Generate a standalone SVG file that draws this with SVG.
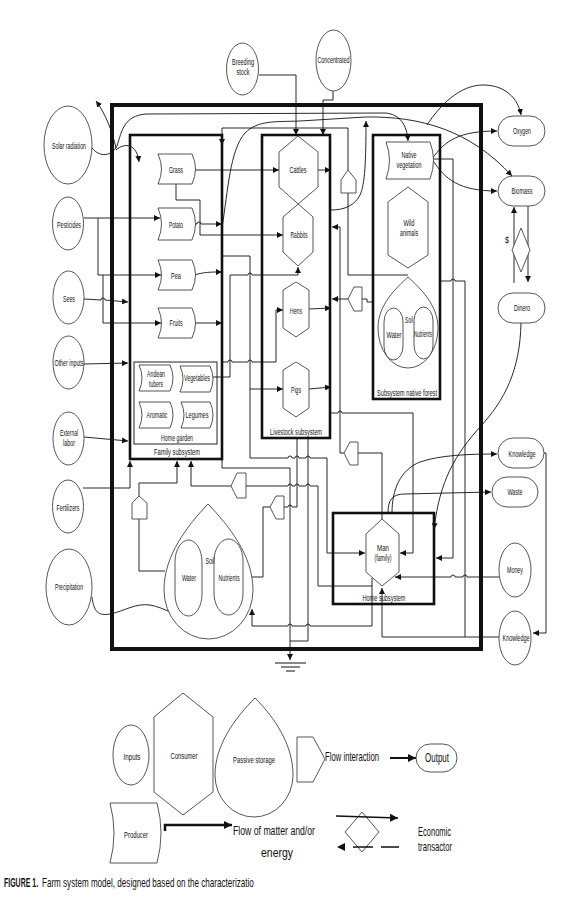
<svg xmlns="http://www.w3.org/2000/svg" width="572" height="923" viewBox="0 0 572 923">
<style>
.n{fill:#fff;stroke:#444;stroke-width:0.9}
.sub{fill:none;stroke:#111;stroke-width:2.6}
.c{fill:none;stroke:#111;stroke-width:0.9}
.t{font-family:"Liberation Sans",Arial,sans-serif;font-size:9.5px;fill:#111;text-anchor:middle}
.t2{font-family:"Liberation Sans",Arial,sans-serif;font-size:8.3px;fill:#111;text-anchor:middle}
.tb{font-family:"Liberation Sans",Arial,sans-serif;font-size:9.5px;fill:#111;text-anchor:middle}
.lg{font-family:"Liberation Sans",Arial,sans-serif;font-size:13px;fill:#111}
</style>
<defs>
<marker id="ah" viewBox="0 0 10 10" refX="10" refY="5" markerWidth="6" markerHeight="6" markerUnits="userSpaceOnUse" orient="auto"><path d="M0,0 L10,5 L0,10 Z" fill="#111"/></marker>
<marker id="ahb" viewBox="0 0 10 10" refX="10" refY="5" markerWidth="8" markerHeight="8" markerUnits="userSpaceOnUse" orient="auto"><path d="M0,0 L10,5 L0,10 Z" fill="#111"/></marker>
</defs>
<rect width="572" height="923" fill="#fff"/>

<!-- frames -->
<g id="farm-frame"><rect x="112" y="105" width="369" height="544" fill="none" stroke="#111" stroke-width="4"/></g>
<g id="family-subsystem"><rect x="130" y="135" width="92" height="324" class="sub"/><text class="tb" x="177" y="455" textLength="46" lengthAdjust="spacingAndGlyphs">Family subsystem</text></g>
<g id="livestock-subsystem"><rect x="262" y="135" width="68" height="303" class="sub"/><text class="tb" x="296" y="435" textLength="52" lengthAdjust="spacingAndGlyphs">Livestock subsystem</text></g>
<g id="forest-subsystem"><rect x="373" y="135" width="67" height="264" class="sub"/><text class="tb" x="407" y="396" textLength="60" lengthAdjust="spacingAndGlyphs">Subsystem native forest</text></g>
<g id="home-subsystem"><rect x="333" y="513" width="101" height="91" class="sub" stroke-width="3"/><text class="tb" x="384" y="601" textLength="43" lengthAdjust="spacingAndGlyphs">Home subsystem</text></g>
<g id="home-garden"><rect x="134" y="362" width="83" height="82" fill="none" stroke="#222" stroke-width="1"/><text class="t" x="177" y="441" textLength="32" lengthAdjust="spacingAndGlyphs">Home garden</text></g>

<!-- connectors -->
<g id="connectors">
<path class="c" d="M259,75 L296,75 L296,135" marker-end="url(#ah)"/>
<path class="c" d="M333,91 L333,100 L323,100 L323,135" marker-end="url(#ah)"/>
<path class="c" d="M92,148 C100,158 112,156 117,146 C122,130 124,116 146,114 L385,113 C400,114 407,125 408,141" marker-end="url(#ah)"/>
<path class="c" d="M116,148 C112,130 105,113 96,101" marker-end="url(#ah)"/>
<path class="c" d="M116,150 C125,142 137,144 139,162" marker-end="url(#ah)"/>
<path class="c" d="M222,228 C228,190 230,150 245,133 C258,120 275,122 300,121 L365,117 C420,116 470,130 512,176" marker-end="url(#ah)"/>
<path class="c" d="M427,125 C440,105 460,85 483,85 C505,85 518,98 521,115" marker-end="url(#ah)"/>
<path class="c" d="M331,210 C345,210 355,205 360,195 C365,185 366,160 366,121" marker-end="url(#ah)"/>
<path class="c" d="M348,170 L348,128 L222,128 L222,145" marker-end="url(#ah)"/>
<path class="c" d="M348,193 L348,275 L408,275"/>
<path class="c" d="M192,170 L279,170" marker-end="url(#ah)"/>
<path class="c" d="M318,170 L331,170" marker-end="url(#ah)"/>
<path class="c" d="M176,184 L176,200 L200,200 L200,235 L283,235" marker-end="url(#ah)"/>
<path class="c" d="M195,224 L197,224 A2,2 0 0 1 201,224 L222,224" marker-end="url(#ah)"/>
<path class="c" d="M194,275 C205,272 210,272 222,272" marker-end="url(#ah)"/>
<path class="c" d="M194,323 L222,323" marker-end="url(#ah)"/>
<path class="c" d="M84,218 L160,218" marker-end="url(#ah)"/>
<path class="c" d="M98,218 L98,275 L161,275" marker-end="url(#ah)"/>
<path class="c" d="M103,275 L103,323 L161,323" marker-end="url(#ah)"/>
<path class="c" d="M84,299 L101,300 A2,2 0 0 1 105,300 L128,302" marker-end="url(#ah)"/>
<path class="c" d="M84,364 L128,363" marker-end="url(#ah)"/>
<path class="c" d="M84,437 L128,441" marker-end="url(#ah)"/>
<path class="c" d="M83,488 L130,488 L130,461" marker-end="url(#ah)"/>
<path class="c" d="M92,597 C94,612 98,616 110,614 C125,611 135,603 150,605 C165,608 178,616 188,622" marker-end="url(#ah)"/>
<path class="c" d="M222,256 L250,256 L250,389 L283,389" marker-end="url(#ah)"/>
<path class="c" d="M250,389 L250,458 L288,458 A2,2 0 0 1 292,458 L295,458 A2,2 0 0 1 299,458 L306,458 A2,2 0 0 1 310,458 L327,458 L327,553 L365,553" marker-end="url(#ah)"/>
<path class="c" d="M213,377 L230,377 L230,275 L248,275 A2,2 0 0 1 252,275 L298,275 L298,267" marker-end="url(#ah)"/>
<path class="c" d="M222,362 L228,362 A2,2 0 0 1 232,362 L248,362 A2,2 0 0 1 252,362 L276,362 L276,310 L283,310" marker-end="url(#ah)"/>
<path class="c" d="M309,309 L331,308" marker-end="url(#ah)"/>
<path class="c" d="M309,389 L331,387" marker-end="url(#ah)"/>
<path class="c" d="M344,453 L340,453 L340,227 L332,227" marker-end="url(#ah)"/>
<path class="c" d="M348,299 L332,299" marker-end="url(#ah)"/>
<path class="c" d="M362,299 L367,299 L367,302 L373,302"/>
<path class="c" d="M330,413 L338,413 A2,2 0 0 1 342,413 L413,413 L413,553 L400,553" marker-end="url(#ah)"/>
<path class="c" d="M358,453 L382,453 L382,519"/>
<path class="c" d="M432,159 L453,159 L453,558 L436,558" marker-end="url(#ah)"/>
<path class="c" d="M440,281 L451,281 A2,2 0 0 1 455,281 L465,281 L465,637"/>
<path class="c" d="M499,637 L382,637 L382,588" marker-end="url(#ah)"/>
<path class="c" d="M499,577 L467,577 A2,2 0 0 0 463,577 L455,577 A2,2 0 0 0 451,577 L395,577" marker-end="url(#ah)"/>
<path class="c" d="M521,323 C520,370 505,400 480,427 C455,455 440,480 434,529" marker-end="url(#ah)"/>
<path class="c" d="M392,513 C392,490 400,470 420,462 C440,455 470,454 497,454" marker-end="url(#ah)"/>
<path class="c" d="M388,513 C388,500 392,494 405,494 L491,492" marker-end="url(#ah)"/>
<path class="c" d="M544,453 L546,453 L546,633 L533,633" marker-end="url(#ah)"/>
<path class="c" d="M432,159 C445,140 460,131 497,131" marker-end="url(#ah)"/>
<path class="c" d="M432,159 C445,180 460,191 497,191" marker-end="url(#ah)"/>
<path class="c" d="M514,283 L514,207" marker-end="url(#ah)"/>
<path class="c" d="M528,206 L528,282" marker-end="url(#ah)"/>
<path class="c" d="M139,519 L139,571 L165,571"/>
<path class="c" d="M139,496 L139,483 L177,483 L177,461" marker-end="url(#ah)"/>
<path class="c" d="M231,486 L191,486 L191,461" marker-end="url(#ah)"/>
<path class="c" d="M246,486 L288,486 A2,2 0 0 1 292,486 L295,486 A2,2 0 0 1 299,486 L306,486 A2,2 0 0 1 310,486 L318,486 L318,586 L372,586"/>
<path class="c" d="M372,578 L372,626 L310,626 A2,2 0 0 0 306,626 L292,626 A2,2 0 0 0 288,626 L252,626 L252,609" marker-end="url(#ah)"/>
<path class="c" d="M270,507 L263,507 L263,577 L245,577" marker-end="url(#ah)"/>
<path class="c" d="M284,507 L288,507 A2,2 0 0 1 292,507 L297,507 L297,438"/>
<path class="c" d="M222,459 L222,468 L290,468 L290,660" marker-end="url(#ah)"/>
<path class="c" d="M308,438 L308,641 L290,641"/>
</g>

<g id="ground"><path d="M275,663 L306,663 M281,667 L300,667 M286,671 L295,671" stroke="#111" stroke-width="1" fill="none"/></g>

<!-- sources -->
<g id="breeding-stock"><ellipse class="n" cx="242.5" cy="69" rx="16" ry="26"/><text class="t2" x="243" y="65" textLength="22" lengthAdjust="spacingAndGlyphs">Breeding</text><text class="t2" x="243" y="75" textLength="13" lengthAdjust="spacingAndGlyphs">stock</text></g>
<g id="concentrated"><ellipse class="n" cx="333.5" cy="60.5" rx="17.5" ry="30.5"/><text class="t" x="333.5" y="63" textLength="32" lengthAdjust="spacingAndGlyphs">Concentrated</text></g>
<g id="solar-radiation"><ellipse class="n" cx="68" cy="145" rx="24" ry="39"/><text class="t" x="69" y="149" textLength="34" lengthAdjust="spacingAndGlyphs">Solar radiation</text></g>
<g id="pesticides"><ellipse class="n" cx="68" cy="223.5" rx="15.5" ry="26.5"/><text class="t" x="69" y="228" textLength="24" lengthAdjust="spacingAndGlyphs">Pesticides</text></g>
<g id="sees"><ellipse class="n" cx="68.5" cy="297.5" rx="15.5" ry="26.5"/><text class="t" x="69" y="302" textLength="12" lengthAdjust="spacingAndGlyphs">Sees</text></g>
<g id="other-inputs"><ellipse class="n" cx="68.5" cy="362.5" rx="15.5" ry="26.5"/><text class="t" x="69" y="366" textLength="29" lengthAdjust="spacingAndGlyphs">Other inputs</text></g>
<g id="external-labor"><ellipse class="n" cx="68.5" cy="438.5" rx="15.5" ry="26.5"/><text class="t2" x="69" y="436" textLength="18" lengthAdjust="spacingAndGlyphs">External</text><text class="t2" x="69" y="446" textLength="12" lengthAdjust="spacingAndGlyphs">labor</text></g>
<g id="fertilizers"><ellipse class="n" cx="68" cy="506.5" rx="15.5" ry="26.5"/><text class="t" x="68" y="511" textLength="23" lengthAdjust="spacingAndGlyphs">Fertilizers</text></g>
<g id="precipitation"><ellipse class="n" cx="69" cy="587" rx="23" ry="38"/><text class="t" x="69" y="590" textLength="28" lengthAdjust="spacingAndGlyphs">Precipitation</text></g>

<!-- producers -->
<g id="grass"><path class="n" d="M158,154 L192,154 Q199,169 192,184 L158,184 Q165,169 158,154 Z"/><text class="t" x="176" y="173" textLength="14" lengthAdjust="spacingAndGlyphs">Grass</text></g>
<g id="potato"><path class="n" d="M158,208 L192,208 Q199,224 192,240 L158,240 Q165,224 158,208 Z"/><text class="t" x="176" y="228" textLength="14" lengthAdjust="spacingAndGlyphs">Potato</text></g>
<g id="pea"><path class="n" d="M158,260 L192,260 Q199,275 192,290 L158,290 Q165,275 158,260 Z"/><text class="t" x="176" y="279" textLength="10" lengthAdjust="spacingAndGlyphs">Pea</text></g>
<g id="fruits"><path class="n" d="M158,308 L192,308 Q199,323 192,338 L158,338 Q165,323 158,308 Z"/><text class="t" x="176" y="326" textLength="13" lengthAdjust="spacingAndGlyphs">Fruits</text></g>
<g id="andean-tubers"><path class="n" d="M139,365 L170,365 Q176,378 170,391 L139,391 Q145,378 139,365 Z"/><text class="t2" x="156" y="377" textLength="18" lengthAdjust="spacingAndGlyphs">Andean</text><text class="t2" x="156" y="387" textLength="14" lengthAdjust="spacingAndGlyphs">tubers</text></g>
<g id="vegetables"><path class="n" d="M180,366 L210,366 Q216,379 210,392 L180,392 Q186,379 180,366 Z"/><text class="t" x="197" y="381" textLength="26" lengthAdjust="spacingAndGlyphs">Vegetables</text></g>
<g id="aromatic"><path class="n" d="M139,402 L170,402 Q176,415 170,428 L139,428 Q145,415 139,402 Z"/><text class="t" x="157" y="418" textLength="21" lengthAdjust="spacingAndGlyphs">Aromatic</text></g>
<g id="legumes"><path class="n" d="M181,402 L210,402 Q216,415 210,428 L181,428 Q187,415 181,402 Z"/><text class="t" x="197" y="418" textLength="23" lengthAdjust="spacingAndGlyphs">Legumes</text></g>
<g id="native-vegetation"><path class="n" d="M386,142 L430,142 Q437,160 430,179 L386,179 Q393,160 386,142 Z"/><text class="t2" x="409" y="158" textLength="15" lengthAdjust="spacingAndGlyphs">Native</text><text class="t2" x="409" y="168" textLength="25" lengthAdjust="spacingAndGlyphs">vegetation</text></g>

<!-- consumers -->
<g id="cattles-rabbits"><path class="n" fill="none" d="M298,136 L318,152 L318,187 L283,217 L283,252 L298,266 L313,252 L313,217 L279,187 L279,152 Z"/><text class="t" x="298" y="173" textLength="17" lengthAdjust="spacingAndGlyphs">Cattles</text><text class="t" x="299" y="238" textLength="17" lengthAdjust="spacingAndGlyphs">Rabbits</text></g>
<g id="hens"><path class="n" d="M296,282 L309,290 L309,328 L296,337 L283,328 L283,290 Z"/><text class="t" x="296" y="314" textLength="12" lengthAdjust="spacingAndGlyphs">Hens</text></g>
<g id="pigs"><path class="n" d="M296,362 L309,370 L309,408 L296,417 L283,408 L283,370 Z"/><text class="t" x="296" y="393" textLength="10" lengthAdjust="spacingAndGlyphs">Pigs</text></g>
<g id="wild-animals"><path class="n" d="M408,187 L428,202 L428,255 L408,268 L388,255 L388,202 Z"/><text class="t2" x="409" y="226" textLength="11" lengthAdjust="spacingAndGlyphs">Wild</text><text class="t2" x="409" y="236" textLength="18" lengthAdjust="spacingAndGlyphs">animals</text></g>
<g id="man-family"><path class="n" d="M382,519 L399,534 L399,572 L382,586 L366,572 L366,534 Z"/><text class="t2" x="383" y="551" textLength="12" lengthAdjust="spacingAndGlyphs">Man</text><text class="t2" x="383" y="561" textLength="17" lengthAdjust="spacingAndGlyphs">(family)</text></g>

<!-- storages -->
<g id="forest-soil"><path class="n" d="M408,277 C420,288 438,305 438,328 A30,40 0 0 1 378,328 C378,305 396,288 408,277 Z"/><rect class="n" x="384" y="308" width="19" height="52" rx="9.5" ry="14"/><rect class="n" x="414" y="307" width="19" height="52" rx="9.5" ry="14"/><text class="t" x="409" y="323" textLength="8" lengthAdjust="spacingAndGlyphs">Soil</text><text class="t" x="394" y="338" textLength="15" lengthAdjust="spacingAndGlyphs">Water</text><text class="t" x="423" y="337" textLength="18" lengthAdjust="spacingAndGlyphs">Nutrients</text></g>
<g id="farm-soil"><path class="n" d="M208,504 C228,525 253,555 253,590 A44.5,49 0 0 1 164,590 C164,555 188,525 208,504 Z"/><rect class="n" x="175" y="540" width="27" height="76" rx="13.5" ry="22"/><rect class="n" x="214" y="539" width="29" height="76" rx="14.5" ry="22"/><text class="t" x="210" y="564" textLength="9" lengthAdjust="spacingAndGlyphs">Soil</text><text class="t" x="189" y="581" textLength="14" lengthAdjust="spacingAndGlyphs">Water</text><text class="t" x="229" y="581" textLength="21" lengthAdjust="spacingAndGlyphs">Nutrients</text></g>

<!-- flow interactions -->
<g id="fi-1"><path class="n" d="M348,170 L356,180 L356,193 L341,193 L341,180 Z"/></g>
<g id="fi-2"><path class="n" d="M348,299 L354,287 L362,287 L362,311 L354,311 Z"/></g>
<g id="fi-3"><path class="n" d="M344,453 L350,442 L358,442 L358,465 L350,465 Z"/></g>
<g id="fi-4"><path class="n" d="M231,486 L237,473 L246,473 L246,498 L237,498 Z"/></g>
<g id="fi-5"><path class="n" d="M270,507 L276,496 L284,496 L284,519 L276,519 Z"/></g>
<g id="fi-6"><path class="n" d="M139,496 L147,503 L147,519 L132,519 L132,503 Z"/></g>

<!-- outputs -->
<g id="oxygen"><rect class="n" x="498" y="116" width="47" height="30" rx="15"/><text class="t" x="522" y="134" textLength="18" lengthAdjust="spacingAndGlyphs">Oxygen</text></g>
<g id="biomass"><rect class="n" x="498" y="176" width="47" height="30" rx="15"/><text class="t" x="522" y="194" textLength="21" lengthAdjust="spacingAndGlyphs">Biomass</text></g>
<g id="transactor"><path class="n" d="M521,228 L530,250 L521,272 L512,250 Z"/><text class="t" x="507" y="243" textLength="4" lengthAdjust="spacingAndGlyphs">$</text></g>
<g id="dinero"><rect class="n" x="498" y="293" width="47" height="30" rx="15"/><text class="t" x="522" y="311" textLength="16" lengthAdjust="spacingAndGlyphs">Dinero</text></g>
<g id="knowledge-out"><rect class="n" x="498" y="438" width="46" height="30" rx="15"/><text class="t" x="522" y="457" textLength="27" lengthAdjust="spacingAndGlyphs">Knowledge</text></g>
<g id="waste"><rect class="n" x="492" y="477" width="46" height="30" rx="15"/><text class="t" x="515" y="495" textLength="15" lengthAdjust="spacingAndGlyphs">Waste</text></g>
<g id="money"><ellipse class="n" cx="515" cy="570" rx="16" ry="27"/><text class="t" x="515" y="573" textLength="16" lengthAdjust="spacingAndGlyphs">Money</text></g>
<g id="knowledge-in"><ellipse class="n" cx="515" cy="638" rx="16" ry="27"/><text class="t" x="516" y="641" textLength="27" lengthAdjust="spacingAndGlyphs">Knowledge</text></g>

<!-- legend -->
<g id="legend">
<g id="lg-inputs"><ellipse class="n" cx="131" cy="755" rx="18" ry="30"/><text class="t" x="132" y="760" font-size="10" textLength="17" lengthAdjust="spacingAndGlyphs">Inputs</text></g>
<g id="lg-consumer"><path class="n" d="M183,693 L213,717 L213,792 L183,815 L154,792 L154,717 Z"/><text class="t" x="184" y="759" font-size="10" textLength="27" lengthAdjust="spacingAndGlyphs">Consumer</text></g>
<g id="lg-storage"><path class="n" d="M255,698 C275,718 293,745 293,775 A39,42 0 0 1 215,775 C215,745 235,718 255,698 Z"/><text class="t" x="254" y="763" font-size="10" textLength="42" lengthAdjust="spacingAndGlyphs">Passive storage</text></g>
<g id="lg-flow"><path class="n" d="M297,737 L313,737 L325,759 L313,782 L297,782 Z"/><text class="lg" x="325" y="761" textLength="54" lengthAdjust="spacingAndGlyphs">Flow interaction</text></g>
<g id="lg-output"><path d="M390,758 L416,758" stroke="#111" stroke-width="2" marker-end="url(#ahb)"/><rect class="n" x="416" y="744" width="41" height="28" rx="14"/><text class="lg" x="437" y="762" font-size="12" text-anchor="middle" textLength="24" lengthAdjust="spacingAndGlyphs">Output</text></g>
<g id="lg-producer"><path class="n" d="M110,803 L157,803 Q165,833 157,863 L110,863 Q118,833 110,803 Z"/><text class="t" x="136" y="838" font-size="10" textLength="24" lengthAdjust="spacingAndGlyphs">Producer</text></g>
<g id="lg-matter"><path d="M165,831 L165,825 L232,825" fill="none" stroke="#111" stroke-width="2.5" marker-end="url(#ahb)"/><text class="lg" x="233" y="835" textLength="82" lengthAdjust="spacingAndGlyphs">Flow of matter and/or</text><text class="lg" x="277" y="857" text-anchor="middle" textLength="32" lengthAdjust="spacingAndGlyphs">energy</text></g>
<g id="lg-transactor"><path class="n" d="M362,812 L379,832 L362,852 L345,832 Z" stroke="#111" stroke-width="1.3"/><path d="M336,816 L398,818" stroke="#111" stroke-width="1.5" marker-end="url(#ahb)"/><path d="M399,847 L381,847 M373,847 L353,847" stroke="#111" stroke-width="1.5"/><path d="M337,847 L345,843 L345,851 Z" fill="#111"/><text class="lg" x="418" y="836" textLength="33" lengthAdjust="spacingAndGlyphs">Economic</text><text class="lg" x="418" y="851" textLength="34" lengthAdjust="spacingAndGlyphs">transactor</text></g>
</g>

<g id="caption"><text class="lg" transform="translate(4,887) scale(0.55,1)" x="0" y="0" font-size="11" font-weight="bold" textLength="62" lengthAdjust="spacingAndGlyphs">FIGURE 1.</text><text class="lg" transform="translate(42,887) scale(0.6,1)" x="0" y="0" textLength="353" lengthAdjust="spacingAndGlyphs">Farm system model, designed based on the characterizatio</text></g>
</svg>
